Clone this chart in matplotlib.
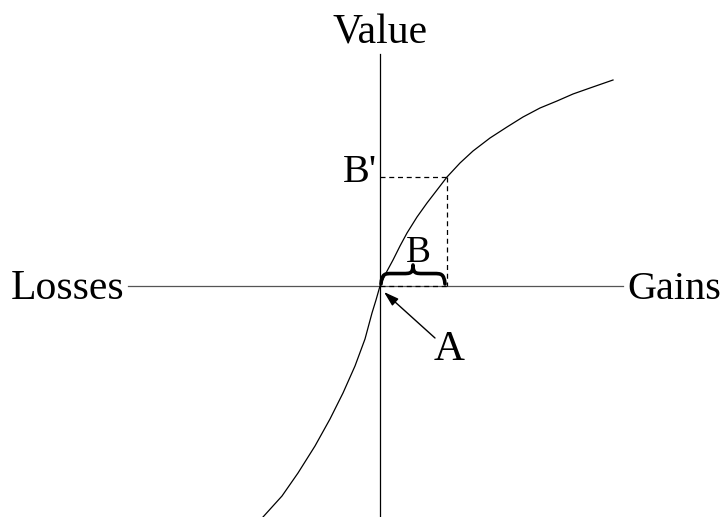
import matplotlib.pyplot as plt
from matplotlib.path import Path
from matplotlib.patches import PathPatch

plt.rcParams['font.family'] = ['Liberation Serif', 'DejaVu Serif']

# value function (origin = where the axes cross)
gain_x = [0, 6, 13, 20, 27, 37, 47, 57, 67, 80, 93, 110, 127, 143, 160, 177, 193, 210, 233]
gain_v = [0, 13, 26, 40, 53, 69, 83, 96, 109, 123, 135, 148, 159, 169, 178, 185, 192, 198, 206]
loss_x = [0, -4, -8, -15, -25, -37, -50, -65, -82, -98, -117]
loss_v = [0, -14, -27, -53, -80, -107, -133, -160, -187, -210, -231]

point_b = 67
point_b_value = 109

fig = plt.figure(figsize=(7.24, 5.17), dpi=100)
ax = fig.add_axes([0, 0, 1, 1])
ax.set_xlim(-380, 344)
ax.set_ylim(-231, 286)
ax.axis('off')

# axes
ax.plot([-252, 243], [0, 0], color='#555555', lw=0.9)
ax.plot([0, 0], [232, -231], color='black', lw=0.9)

# curve
ax.plot(loss_x[::-1] + gain_x[1:], loss_v[::-1] + gain_v[1:], color='black', lw=0.9)

# dashed guides
dash = dict(color='black', lw=0.9, ls=(0, (4, 3)))
ax.plot([0, point_b], [point_b_value, point_b_value], **dash)
ax.plot([point_b, point_b], [point_b_value, 0], **dash)
ax.plot([0, point_b], [0, 0], **dash)


def brace(x0, x1, y, h):
    """Horizontal curly brace with its point facing up."""
    m = (x0 + x1) / 2
    q = h * 0.55
    verts = [
        (x0, y),
        (x0 + 1, y + q), (x0 + 4, y + q), (x0 + 11, y + q),
        (m - 10, y + q),
        (m - 3, y + q), (m, y + q), (m, y + h),
        (m, y + q), (m + 3, y + q), (m + 10, y + q),
        (x1 - 11, y + q),
        (x1 - 4, y + q), (x1 - 1, y + q), (x1, y),
    ]
    codes = [Path.MOVETO,
             Path.CURVE4, Path.CURVE4, Path.CURVE4,
             Path.LINETO,
             Path.CURVE4, Path.CURVE4, Path.CURVE4,
             Path.CURVE4, Path.CURVE4, Path.CURVE4,
             Path.LINETO,
             Path.CURVE4, Path.CURVE4, Path.CURVE4]
    ax.add_patch(PathPatch(Path(verts, codes), fill=False, lw=2.6,
                           edgecolor='black', capstyle='round', joinstyle='round'))


brace(1, point_b - 2, 2, 19)

# labels
ax.text(0, 243, 'Value', ha='center', va='baseline', fontsize=30)
ax.text(-256, -13, 'Losses', ha='right', va='baseline', fontsize=30)
ax.text(247, -13, 'Gains', ha='left', va='baseline', fontsize=29)
ax.text(-3, 104, "B'", ha='right', va='baseline', fontsize=29)
ax.text(38, 24, 'B', ha='center', va='baseline', fontsize=27)
ax.text(69, -74, 'A', ha='center', va='baseline', fontsize=31)

ax.annotate('', xy=(4, -6), xytext=(55, -52),
            arrowprops=dict(arrowstyle='-|>,head_length=0.9,head_width=0.28',
                            color='black', lw=1.0, shrinkA=0, shrinkB=0))

fig.savefig('out.png', dpi=100)
